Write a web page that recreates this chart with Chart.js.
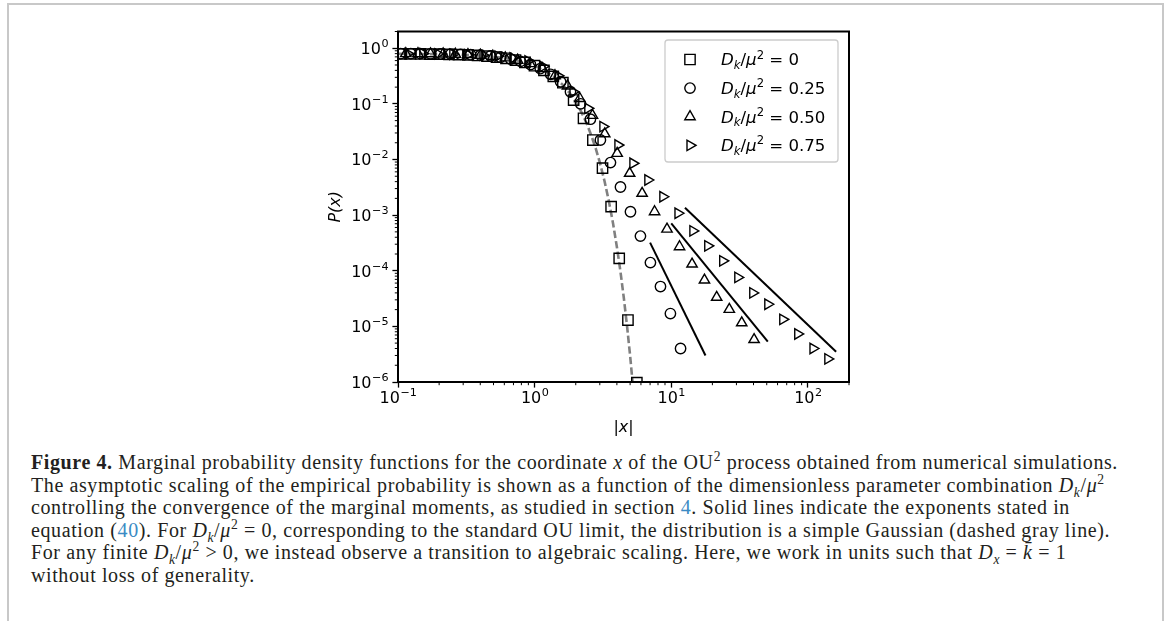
<!DOCTYPE html>
<html>
<head>
<meta charset="utf-8">
<script src="https://cdn.jsdelivr.net/npm/chart.js@4.4.1/dist/chart.umd.min.js"></script>
<style>
    html, body { margin: 0; padding: 0; background: #fff; }
    body { width: 1167px; height: 621px; position: relative; overflow: hidden; }
    .frame { position: absolute; left: 7px; top: 3px; right: 3px; bottom: -10px; border: 2px solid #c8c8c8; border-bottom: none; }
    #wrap { position: absolute; left: 300px; top: 20px; width: 580px; height: 425px; }
    .caption {
        position: absolute; left: 31px; top: 451px;
        font-family: 'Liberation Serif', serif; font-size: 20px; line-height: 22.6px; letter-spacing: 0.6px;
        color: #231f20; white-space: nowrap;
    }
    .caption sup, .caption sub { font-size: 0.68em; line-height: 0; }
    .caption a { color: #3b8bc4; text-decoration: none; }
</style>
</head>
<body>
<div class="frame"></div>
<div id="wrap"><canvas id="chart"></canvas></div>
<div class="caption">
<b>Figure 4.</b> Marginal probability density functions for the coordinate <i>x</i> of the OU<sup>2</sup> process obtained from numerical simulations.<br>
The asymptotic scaling of the empirical probability is shown as a function of the dimensionless parameter combination <i>D<sub>k</sub></i>/<i>μ</i><sup>2</sup><br>
controlling the convergence of the marginal moments, as studied in section <a>4</a>. Solid lines indicate the exponents stated in<br>
equation (<a>40</a>). For <i>D<sub>k</sub></i>/<i>μ</i><sup>2</sup> = 0, corresponding to the standard OU limit, the distribution is a simple Gaussian (dashed gray line).<br>
For any finite <i>D<sub>k</sub></i>/<i>μ</i><sup>2</sup> &gt; 0, we instead observe a transition to algebraic scaling. Here, we work in units such that <i>D<sub>x</sub></i> = <i>k̄</i> = 1<br>
without loss of generality.
</div>
<script>
/* ------------------------------------------------------------------ *
 |  Data (|x| and P(x) per D_k/mu^2 value)
 * ------------------------------------------------------------------ */
const legendValues = ['0', '0.25', '0.50', '0.75'];

// D_k/mu^2 = 0 (squares)
const x00 = [0.106, 0.124, 0.146, 0.171, 0.201, 0.236, 0.277, 0.325, 0.382, 0.448, 0.526, 0.617, 0.724, 0.849, 0.997, 1.17, 1.37,
    1.61, 1.93, 2.28, 2.67, 3.14, 3.63, 4.16, 4.82, 5.60];
const y00 = [0.793, 0.792, 0.789, 0.786, 0.782, 0.776, 0.768, 0.757, 0.742, 0.722, 0.695, 0.66, 0.614, 0.556, 0.485, 0.40, 0.312,
    0.24, 0.117, 0.055, 0.0224, 0.0070, 0.00142, 1.67e-4, 1.30e-5, 9.7e-7];

// D_k/mu^2 = 0.25 (circles)
const x25 = [0.1045, 0.124, 0.146, 0.173, 0.205, 0.243, 0.287, 0.340, 0.402, 0.476, 0.563, 0.666, 0.789, 0.933, 1.10, 1.31, 1.55,
    1.83, 2.17, 2.56, 3.03, 3.59, 4.25, 5.03, 5.95, 7.04, 8.34, 9.86, 11.7];
const y25 = [0.80, 0.80, 0.80, 0.795, 0.79, 0.785, 0.775, 0.765, 0.75, 0.725, 0.69, 0.64, 0.58, 0.51, 0.43, 0.34, 0.25,
    0.165, 0.10, 0.053, 0.0224, 0.0088, 0.0032, 0.00115, 4.2e-4, 1.4e-4, 5.2e-5, 1.7e-5, 4.0e-6];

// D_k/mu^2 = 0.50 (up triangles)
const x50 = [0.114, 0.140, 0.173, 0.214, 0.263, 0.325, 0.401, 0.494, 0.610, 0.751, 0.927, 1.14, 1.41, 1.74, 2.14, 2.65, 3.26,
    4.02, 4.96, 6.12, 7.55, 9.31, 11.5, 14.2, 17.5, 21.5, 26.6, 32.8, 40.4];
const y50 = [0.80, 0.80, 0.795, 0.79, 0.78, 0.77, 0.75, 0.72, 0.67, 0.61, 0.53, 0.43, 0.32, 0.21, 0.125, 0.062, 0.029,
    0.0129, 0.00565, 0.00247, 0.00115, 5.6e-4, 2.7e-4, 1.32e-4, 6.8e-5, 3.33e-5, 2.02e-5, 1.16e-5, 5.8e-6];

// D_k/mu^2 = 0.75 (right triangles)
const x75 = [0.118, 0.152, 0.196, 0.252, 0.325, 0.419, 0.539, 0.694, 0.893, 1.15, 1.48, 1.91, 2.45, 3.16, 4.07, 5.24, 6.74,
    8.68, 11.2, 14.4, 18.5, 23.8, 30.7, 39.5, 50.9, 65.5, 84.3, 109, 140];
const y75 = [0.80, 0.80, 0.79, 0.78, 0.77, 0.75, 0.72, 0.67, 0.59, 0.47, 0.32, 0.165, 0.083, 0.039, 0.0182, 0.00855, 0.00428,
    0.00214, 0.00108, 5.2e-4, 2.8e-4, 1.51e-4, 7.6e-5, 4.0e-5, 2.5e-5, 1.34e-5, 7.3e-6, 4.0e-6, 2.6e-6];

// dashed gray Gaussian
const gaussX = [0.1, 0.2, 0.3, 0.4, 0.5, 0.6, 0.7, 0.8, 0.9, 1.0, 1.2, 1.4, 1.6, 1.8, 2.0, 2.2, 2.4, 2.6, 2.8, 3.0,
    3.25, 3.5, 3.75, 4.0, 4.25, 4.5, 4.75, 5.0, 5.25, 5.5];
const gaussY = [0.794, 0.782, 0.762, 0.735, 0.704, 0.666, 0.625, 0.579, 0.532, 0.484, 0.388, 0.300, 0.222, 0.158, 0.108, 0.0710,
    0.0448, 0.0271, 0.0158, 0.00886, 0.00407, 0.00175, 7.1e-4, 2.68e-4, 9.6e-5, 3.2e-5, 1.0e-5, 2.97e-6, 8.1e-7, 2.1e-7];

// solid power-law guides
const fit25X = [7.0, 17.8],  fit25Y = [3.2e-4, 3.0e-6];
const fit50X = [10.0, 50.9], fit50Y = [7.1e-4, 5.3e-6];
const fit75X = [12.6, 161],  fit75Y = [1.36e-3, 3.5e-6];

// axes
const xTicks = [0.1, 1, 10, 100];
const yTicks = [1e-6, 1e-5, 1e-4, 1e-3, 1e-2, 1e-1, 1];
const xRange = [0.1, 200];
const yRange = [1e-6, 2];

/* ------------------------------------------------------------------ */
const FONT = '"DejaVu Sans", sans-serif';

// exponent of a power of ten, with a real minus sign
const expText = (v) => String(Math.round(Math.log10(v))).replace('-', '\u2212');

const pts = (xs, ys) => xs.map((x, i) => ({ x, y: ys[i] }));

function markerSet(xs, ys, style, radius, rotation = 0) {
    return {
        data: pts(xs, ys),
        showLine: false,
        pointStyle: style,
        pointRadius: radius,
        pointRotation: rotation,
        pointBorderWidth: 1.4,
        pointBorderColor: '#000',
        pointBackgroundColor: 'rgba(0,0,0,0)',
    };
}

function guide(xs, ys) {
    return {
        data: pts(xs, ys),
        showLine: true,
        borderColor: '#000',
        borderWidth: 2,
        pointRadius: 0,
    };
}

const datasets = [
    markerSet(x00, y00, 'rect', 7.3),
    markerSet(x25, y25, 'circle', 5.2),
    markerSet(x50, y50, 'triangle', 6),
    markerSet(x75, y75, 'triangle', 6, 90),
    {
        data: pts(gaussX, gaussY),
        showLine: true,
        borderColor: '#808080',
        borderWidth: 2.6,
        borderDash: [7.4, 3.2],
        pointRadius: 0,
    },
    guide(fit25X, fit25Y),
    guide(fit50X, fit50Y),
    guide(fit75X, fit75Y),
];

/* "10" + raised exponent */
function drawPow(ctx, v, x, y, align) {
    const e = expText(v);
    ctx.font = '16px ' + FONT;
    const wb = ctx.measureText('10').width;
    ctx.font = '11.2px ' + FONT;
    const we = ctx.measureText(e).width;
    const x0 = align === 'right' ? x - wb - we : x - (wb + we) / 2;
    ctx.font = '16px ' + FONT;
    ctx.fillText('10', x0, y);
    ctx.font = '11.2px ' + FONT;
    ctx.fillText(e, x0 + wb + 0.5, y - 7);
}

/* Axes box, minor ticks and tick labels, drawn like matplotlib */
const axesFrame = {
    id: 'axesFrame',
    afterDatasetsDraw(chart) {
        const { ctx, chartArea: a } = chart;
        const xs = chart.scales.x, ys = chart.scales.y;
        ctx.save();
        ctx.strokeStyle = '#000';
        ctx.lineWidth = 2;
        ctx.strokeRect(a.left, a.top, a.right - a.left, a.bottom - a.top);

        ctx.lineWidth = 1;
        ctx.beginPath();
        for (let e = -1; e <= 2; e++) {
            for (let m = 2; m <= 9; m++) {
                const v = m * Math.pow(10, e);
                if (v > xs.max * 1.0001) continue;
                const px = xs.getPixelForValue(v);
                ctx.moveTo(px, a.bottom);
                ctx.lineTo(px, a.bottom + 3.2);
            }
        }
        for (let e = -6; e <= 0; e++) {
            for (let m = 2; m <= 9; m++) {
                const v = m * Math.pow(10, e);
                if (v > ys.max * 1.0001) continue;
                const py = ys.getPixelForValue(v);
                ctx.moveTo(a.left, py);
                ctx.lineTo(a.left - 3.2, py);
            }
        }
        ctx.stroke();

        ctx.fillStyle = '#000';
        ctx.textBaseline = 'alphabetic';
        ctx.textAlign = 'left';
        xs.ticks.forEach((t) => drawPow(ctx, t.value, xs.getPixelForValue(t.value), a.bottom + 21.3, 'center'));
        ys.ticks.forEach((t) => drawPow(ctx, t.value, a.left - 10, ys.getPixelForValue(t.value) + 5.8, 'right'));
        ctx.restore();
    },
};

/* Legend with mathtext-like labels: D_k/mu^2 = value */
function mathLabel(ctx, x, y, value) {
    const parts = [
        ['D', 'italic 16.6px ' + FONT, 0],
        ['k', 'italic 11.6px ' + FONT, 3.7],
        ['/', '16.6px ' + FONT, 0],
        ['μ', 'italic 16.6px ' + FONT, 0],
        ['2', '11.6px ' + FONT, -6.8],
        [' = ' + value, '16.6px ' + FONT, 0],
    ];
    let cx = x;
    for (const [t, f, dy] of parts) {
        ctx.font = f;
        ctx.fillText(t, cx, y + dy);
        cx += ctx.measureText(t).width;
    }
}

const mathLegend = {
    id: 'mathLegend',
    afterDraw(chart) {
        const { ctx, chartArea: a } = chart;
        const w = 173, h = 122;
        const left = a.right - 11 - w, top = a.top + 8.5;
        ctx.save();
        ctx.beginPath();
        ctx.roundRect(left, top, w, h, 3);
        ctx.fillStyle = 'rgba(255,255,255,0.8)';
        ctx.fill();
        ctx.strokeStyle = '#cccccc';
        ctx.lineWidth = 1.3;
        ctx.stroke();

        legendValues.forEach((val, i) => {
            const ds = datasets[i];
            const my = top + 19.5 + i * 28.6;
            ctx.fillStyle = 'rgba(0,0,0,0)';
            ctx.strokeStyle = '#000';
            ctx.lineWidth = 1.4;
            Chart.helpers.drawPoint(ctx, {
                pointStyle: ds.pointStyle,
                radius: ds.pointRadius,
                rotation: ds.pointRotation,
                borderWidth: 1.4,
            }, left + 25, my);
            ctx.fillStyle = '#000';
            ctx.textBaseline = 'alphabetic';
            ctx.textAlign = 'left';
            mathLabel(ctx, left + 56, my + 5.8, val);
        });
        ctx.restore();
    },
};

new Chart(document.getElementById('chart'), {
    type: 'scatter',
    data: { datasets },
    options: {
        responsive: true,
        maintainAspectRatio: false,
        animation: false,
        layout: { padding: { top: 11.5, right: 31, left: 0, bottom: 0 } },
        plugins: { legend: { display: false }, tooltip: { enabled: false } },
        scales: {
            x: {
                type: 'logarithmic',
                min: xRange[0],
                max: xRange[1],
                afterFit: (s) => { s.height = 63; },
                afterBuildTicks: (s) => { s.ticks = xTicks.map((v) => ({ value: v })); },
                grid: { drawOnChartArea: false, tickLength: 5.6, tickWidth: 1.3, tickColor: '#000' },
                border: { display: false },
                ticks: { display: false, autoSkip: false },
                title: { display: true, text: '|x|', color: '#000', font: { family: FONT, size: 16, style: 'italic' }, padding: { top: 0, bottom: 7.5 } },
            },
            y: {
                type: 'logarithmic',
                min: yRange[0],
                max: yRange[1],
                afterFit: (s) => { s.width = 98; },
                afterBuildTicks: (s) => { s.ticks = yTicks.map((v) => ({ value: v })); },
                grid: { drawOnChartArea: false, tickLength: 5.6, tickWidth: 1.3, tickColor: '#000' },
                border: { display: false },
                ticks: { display: false, autoSkip: false },
                title: { display: true, text: 'P(x)', color: '#000', font: { family: FONT, size: 16, style: 'italic' }, padding: { top: 26.4, bottom: 0 } },
            },
        },
    },
    plugins: [axesFrame, mathLegend],
});
</script>
</body>
</html>
